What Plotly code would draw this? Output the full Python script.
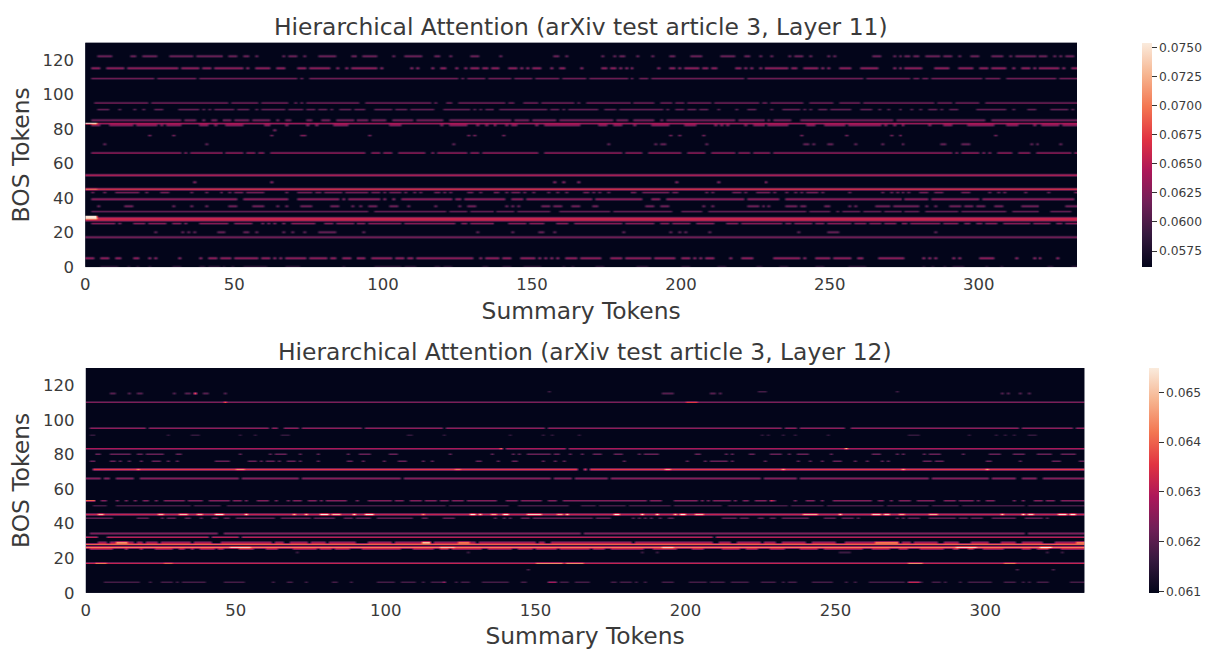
import plotly.graph_objects as go

N_COLS = 333
N_ROWS = 130
X_TICKS = [0, 50, 100, 150, 200, 250, 300]
Y_TICKS = [0, 20, 40, 60, 80, 100, 120]
ROCKET = [[0.0, "#03051a"], [0.143, "#35193e"], [0.286, "#701f57"], [0.429, "#ad1759"],
          [0.571, "#e13342"], [0.714, "#f37651"], [0.857, "#f6b48f"], [1.0, "#faebdd"]]

L11_MIN, L11_MAX = 0.05615, 0.07538
L11_TICKS = [0.0575, 0.06, 0.0625, 0.065, 0.0675, 0.07, 0.0725, 0.075]
L11_ROWS = [122, 115, 109, 95, 91, 85, 83, 82, 79, 76, 71, 66, 53, 49, 45, 43, 39, 35, 32, 28, 27, 25, 20, 17, 5, 0]
L11_LEVELS = [0.0618, 0.0635, 0.0622, 0.0622, 0.0616, 0.0622, 0.0645, 0.0630, 0.0630, 0.0630, 0.0614, 0.0638,
              0.0652, 0.0634, 0.0672, 0.0625, 0.0635, 0.0620, 0.0616, 0.0658, 0.0658, 0.0635, 0.0614, 0.0622, 0.0636, 0.0618]
L11_SPANS = [
 "4-6 7-8 15-16 19-23 28-30 31-35 37-40 41-44 45 48-50 53-54 57 66 68-70 73 78-83 89-90 93-97 103 107-111 112 117-118 122 129-131 139 157-158 161 173 177 179-180 185 190 196-197 203-206 213-217 221-222 226 230 236 238-240 243 249 251 264-266 271 273 275-276 278-279 282-286 288-290 293 297-299 304-306 307 310 312-318 320-322 325 327 329-331",
 "2-4 7-11 12 14-16 17-23 24-30 32-37 39 40-41 43-48 49-52 54 57-61 64-66 71-72 73 75-81 84 87 89-90 91-97 99 109 111 116 119-120 124 127 129-131 133-134 136-138 142-143 144 146 148 150-152 156 159-160 166 173-174 176-177 179 181 183 192 196-197 199 201-205 207-208 210-211 218-219 221 223 226 228-230 230-235 237-238 241-245 247 249 253-255 256 260-265 271 273 275-280 285-288 289 293-295 296-297 300-302 304-308 311 314-316 318 320-326 328 331-332",
 "2-22 24-36 38-43 44-54 55-70 72 75-97 98-102 103-105 106-109 110-121 122-124 126 128-133 135-142 144-149 151-158 160-167 169-181 183 186-188 190-220 222-247 248-249 250-260 262-276 278-279 281-282 284-300 302-306 309-325 327-332",
 "3-6 7-17 18-20 22-30 31-35 36-38 39-41 42-47 49-50 51-54 55-57 59-67 70 72 74-79 80-84 85-91 94-96 97-105 106-108 109-115 117 121-122 125-128 129-140 142-143 147-151 153-163 165 168-182 184-190 193-196 198-200 202-209 211-225 227-228 230-240 243-246 247-250 253-259 261-284 286-290 292-295 296-299 302-332",
 "4-7 11 16 19 23-25 31-35 36 37 39 41 43-45 46-49 51-54 57 59-66 68-72 74-76 78-80 82 85-88 90-93 97-102 104-107 109-116 120-128 130 132 134-136 139-151 152-154 156-158 160 162-171 174-177 179-184 185-193 195 198-200 202-204 206-208 212 218 222-224 230 234-235 236-238 239 241 243 246-248 250-253 254-256 260-263 266 269 273 277 280 283-285 287 290-292 299-306 307-308 311 316 317-318 324-328 329 331",
 "2-14 15-23 24-31 33-36 39 42-43 46-48 50-54 56-59 60-61 64 67-68 74-75 79-81 84-86 87-89 91-94 96-100 103-109 111-119 122-130 131-138 139-142 144-148 150-152 153-157 159-163 164-170 171-176 178-181 184-186 187-190 193 195-199 200-217 219-227 229 231-233 234-236 240-241 242-243 244-261 262 263-270 272-282 283-285 286-301 304-314 315-320 321-325 326-327 328-332",
 "0-332",
 "2-4 8-15 17-19 20-23 25 27-29 30-31 38-40 43 47-51 52 60-61 67 74 77 83-87 102-105 119 122-127 131 134 137 141 143-144 151 154-165 172-174 177-179 184 190-195 201-204 211 213 215 221 224-227 229-235 242-244 248-254 256-258 259-266 268 271 274 283 288-290 296-304 309-312 318 321-326 328-329 330-332",
 "63",
 "21 29 62 72-73 95 128 130 140 196 199 207 240 255 270 273 305",
 "6 40 123 175 191 193-194 208 241-242 244 249-250 258 267 274 287-288 294-296 317 319 327",
 "2-7 8-21 22-29 30-31 33 35-41 42-45 47-51 52 54-56 58-59 62-71 72-82 83-86 87-93 96-98 100-102 105-113 116 118-127 129-131 133-150 151 154-160 161-168 169-171 172-179 181-185 186 189-199 202-207 210-217 219-222 224-229 231-239 240-243 244-255 256-266 267-273 274-283 284-285 286-290 292 294-299 301 303 306-310 313-316 319-330 332",
 "0-332",
 "36 62 157 160 165 198 212 228",
 "0-332",
 "2 6 10-17 20 25-27 35 40 45 48 50-52 54-56 57-59 67 71-75 77 78 80-85 87-94 96-98 100 102-105 107 110 112 117-118 120 122 128-129 132 137-138 141 143-145 147 150 155 158 161 167-168 170 172 175 183-184 187-190 191-193 194-195 197-198 208 210 217-219 221 225-229 231 235 238 240 242-245 247 256 267 270 272 274 276 280-281 282 285-287 294-296 303 306 308 315 323 332",
 "2-10 11-17 18-50 53-67 71-84 86 88-97 98 100 103 106-111 112-119 120-122 124-125 127-140 143-146 148-169 171-186 190-192 195-220 222-232 235-273 275-282 284-299 301-331",
 "4 13-15 29 35 40 48-50 56-58 58-59 64 67 72-75 82-84 89 92 95-97 102-104 108 117 125 128-130 141 143 145 153-155 157-159 163-165 170-171 188-190 193-195 207 210 222-225 227 229 235-238 240-241 248-249 256 258 265-269 271-273 274-279 282 285 290-292 293 295-297 299-301 305-307 314-318 319 329-332",
 "2-4 5-6 7-16 17-21 22-30 31-45 46-59 60-67 68-83 84-92 93-94 97-120 122-127 129-136 138-140 141-143 145-155 159-175 177-196 200-201 202-203 204-206 209-241 243-249 252 254-256 257-259 261-266 268-273 275-279 282-286 287-290 291-292 294-296 297-301 302-308 311-315 316-319 324-330",
 "0-332",
 "0-332",
 "2-5 6-9 11 16-19 21-25 26 29-31 33 38-47 50-55 59 61 63 66 69-76 80-82 84-86 87-89 91-93 95-97 98-105 107-109 110-123 126-127 129-133 134-136 142-147 149-153 158-160 161 164-168 169-171 172-179 181-186 186-190 193-195 197-202 205-210 215-218 220-224 225-227 228-233 235-236 238-243 245-247 249-250 251-252 253-254 255-256 258-261 263-266 268-271 274-275 277-286 288-289 290-292 295-296 299-300 302-305 308-316 318-323 326-327 329-332",
 "23 32 34 36 44-46 53-54 57 66 69 73 78-83 93 131 143 152-153 157 180 196 199 201 209 239 249-252 285",
 "0-332",
 "0-2 5-7 10-11 16-17 21 23 31 38 41-43 45-48 50-54 55-57 59-61 63 65 67-73 75-78 79-80 82-83 86-88 91-93 96-102 104-106 108-109 111-129 132 134-136 137-138 140-142 146-150 152 154 156 158 161-164 166-172 176-179 181-189 191-197 200-202 204 206 208-210 216 220-223 231-239 241 245-249 251-254 255-256 259-260 266-271 272-274 281 283 285 291 293 300-304 312 318 320 326",
 "5-10 14 17 21 29-31 38-39 41-44 46 49 53-60 67-71 86 97-105 107-110 117-118 120-122 133-134 140-142 147-152 160 163 171-173 185-188 200-202 212-214 225-226 233-235 245-247 256-261 281 284 288 291-294 302 307 323-324 331-332",
]
L11_PEAK_ROWS = [83, 45, 29, 28]
L11_PEAKS = ["0-3:0.0752", "0-3:0.0700", "0-3:0.0752", "0-3:0.0752"]

L12_MIN, L12_MAX = 0.06098, 0.0655
L12_TICKS = [0.061, 0.062, 0.063, 0.064, 0.065]
L12_ROWS = [116, 115, 110, 95, 91, 83, 80, 76, 71, 66, 53, 50, 45, 43, 34, 32, 29, 28, 27, 26, 25, 23, 17, 13, 6]
L12_LEVELS = [0.0618, 0.0620, 0.0624, 0.0626, 0.0616, 0.0629, 0.0622, 0.0622, 0.0636, 0.0625, 0.0625, 0.0618,
              0.0632, 0.0621, 0.0624, 0.0631, 0.0627, 0.0640, 0.0615, 0.0643, 0.0625, 0.0617, 0.0632, 0.0620, 0.0618]
L12_SPANS = [
 "154 224-226 270",
 "8-9 14 17-18 29 33-34 36 39-40 46 192-195 208-209 211 305 307 311 314",
 "0-332",
 "1-3 4-19 21-23 24-28 29-60 62-63 66-70 72-77 78-91 93-118 120-143 144-150 151-152 154-164 165-212 213-231 233-236 238-248 249-252 255-275 276-283 284-302 303-310 312-326 327-328 330-332",
 "1-2 27 35-37 51 56 65-67 107-108 119 141 152 155 164 225 227 232 236 247 274-277 294 303 306 309 314-316",
 "0-16 17-50 51-138 140-159 161-332",
 "3-4 8-11 12-13 14 17-18 20-25 30-31 51 61 63-66 71 77 87 91-93 94 101-103 121 135 142 144 147-150 151-154 156-157 161 165 169-171 176-178 184 186-189 190 203-204 213 215 221-222 228-231 234 237-240 248 262-264 270 272 279 281-283 284 292 301-304 309-312 317-320 321 325-327 328-329",
 "1-2 8-9 11 14 18 22-24 27 30 43-45 46-47 54-56 58 60-62 64 67-69 71 77 87-88 92 99 104-106 112 115 130-131 137 142-143 152 156 159 179 200 206 208-213 215 226 237 241 245 249-251 256 260 265 267 279-281 283-285 300-301 311 322-324 331-332",
 "2-163 166 168-332",
 "0-4 6-7 10-15 18-27 28-30 31-35 36-50 52-54 55-58 59-62 63-67 68-70 72-87 88-93 94-104 106-119 120-129 130-154 156-161 163-173 175-197 198-208 209-215 216-224 226-236 238-250 251-256 257-274 275-277 278-279 280 282-294 295-300 302-306 307-309 312-313 314-316 319-332",
 "0-2 5-6 10 13 16 19-20 23 26-27 28-30 31-32 34-36 37-38 41-46 47 49-51 53 57-60 63 67 69-71 74-76 78 80-83 84-86 90 94-101 103-105 108-111 113-116 118-120 122-125 127-135 136 140-142 143 145-151 154-156 159-161 162-163 164-175 176-179 180-184 185-186 188-190 191 196-202 203 205 207 209-211 212-213 214 216 219-220 223-226 228-229 236 240-242 245 249-258 259-261 264-265 268 271-274 277-282 286-289 291-295 297 300-302 309 312 316-318 320-322 325-331 332",
 "2-6 10-24 25-34 36-44 47-57 58-66 67-84 85-119 121-140 144-160 165-169 171-179 181-194 196-211 214-225 226-233 235-237 238-245 247-265 267-280 282-290 292-306 307-312 314-332",
 "0-332",
 "0-8 17-19 20 25 27-29 33-34 38 42-43 46-47 50-62 65-69 70-74 76-79 80-82 86-88 90-94 97-100 101-104 105-106 107-108 112-113 119-122 136 139 141 145-147 149-160 161-163 164-165 166-168 170-174 182 184 186 188 191 194-195 212-213 214-216 218-220 224-225 228-229 232-235 236-240 246-249 252-255 257 270 272 274-277 281-282 283-285 286-289 291-293 295-298 302-305 306-309 313-318 320",
 "1-43 46-164 166-312 314-332",
 "0-3 7-16 17-40 42-50 52-208 210-332",
 "4-6 8-15 17-18 20-23 25-30 31-34 36-41 45-55 56-61 63-65 68-73 75-79 81-89 94-97 98-101 103-114 116-129 131-141 142-149 151-152 155-162 163-165 166-181 183-194 195-208 211-214 217-224 226-229 232-239 242-249 253-256 257-263 263-270 272-274 276-283 286-290 295-300 305-309 312-318 323-332",
 "0-332",
 "0-332",
 "0-332",
 "1-2 3-8 13 18 23-28 31-32 35 38-42 44-45 51-55 60-63 69-76 78-81 83-87 92-97 98-100 101-104 109-115 118-120 122-131 134-141 144-148 150-156 158-167 169-172 175-185 189-196 202-205 212-217 220-223 228-232 238-243 246-252 253-258 262-267 271-273 278-285 289-290 294-295 299-305 312-314 317-320 325-332",
 "70 127 185 190 251-254 320 325",
 "0-332",
 "147 310 322",
 "6-17 21 25-28 30 32-39 46-52 62 67-68 73 82-83 88 97-102 105-109 112 115-118 119 123 125-127 132-140 145-146 154-156 158-160 163-167 175-176 178-181 183 186 192-195 201-203 204-206 208-212 215-220 225-229 232 234-236 242-248 253 256 261-272 274-278 282-284 286 291 294-297 298-301 306-309 312 314 317-319 320 328-331 332",
]
L12_PEAK_ROWS = [115, 110, 83, 71, 53, 45, 29, 26, 17, 6]
L12_PEAKS = [
 "36:0.0640",
 "46:0.0640 200-203:0.0636",
 "138:0.0642 253:0.0650",
 "17:0.0645 50-52:0.0645 123-124:0.0643 193-194:0.0648 232:0.0648 272:0.0648 300:0.0648",
 "0-2:0.0640 228:0.0636",
 "4-5:0.0650 24-25:0.0650 31-33:0.0650 37-38:0.0650 43-45:0.0655 53:0.0655 69:0.0650 73:0.0652 78-80:0.0655 82-84:0.0650 89:0.0655 93-95:0.0655 112:0.0646 128-129:0.0655 131:0.0654 135-136:0.0648 139-140:0.0655 147-151:0.0652 157-158:0.0648 160:0.0652 176-177:0.0655 185:0.0655 190:0.0655 196:0.0652 198-199:0.0655 203-205:0.0650 239-243:0.0648 251:0.0654 262-264:0.0652 266-267:0.0652 271-272:0.0648 281-283:0.0648 305:0.0652 312:0.0655 314-315:0.0652 324-326:0.0654 328-329:0.0655",
 "10-13:0.0645 112-114:0.0650 124-127:0.0642 263-270:0.0642 330-332:0.0642",
 "48-54:0.0652 118-122:0.0650 192-195:0.0652 290-296:0.0652 318-321:0.0655",
 "3-6:0.0642 26-28:0.0640 150-158:0.0644 160-165:0.0644 274-278:0.0644 306-309:0.0642",
 "119:0.0628 154-156:0.0628 274-277:0.0632",
]


def cols_of(text):
    out = []
    for tok in text.split():
        a, _, b = tok.partition("-")
        out.extend(range(int(a), int(b or a) + 1))
    return [c for c in out if c < N_COLS]


def build(zmin, rows, levels, spans, peak_rows, peaks):
    z = [[zmin] * N_COLS for _ in range(N_ROWS)]
    for r, lv, s in zip(rows, levels, spans):
        for c in cols_of(s):
            z[r][c] = lv
    for r, text in zip(peak_rows, peaks):
        for tok in text.split():
            span, _, value = tok.partition(":")
            for c in cols_of(span):
                z[r][c] = float(value)
    return z


W, H = 1218.0, 653.0
ML, MR, MT, MB = 80.0, 8.0, 30.0, 59.5


def px(v):
    return (v - ML) / (W - ML - MR)


def py(v):
    return 1 - (v - MT) / (H - MT - MB)


x_centers = [i + 0.5 for i in range(N_COLS)]
y_centers = [i + 0.5 for i in range(N_ROWS)]
TEXT = "#3a3a3a"
FONT = "DejaVu Sans"


def colorbar(left, top, bottom, ticks, fmt):
    return dict(x=px(left), xanchor="left", xpad=0, ypad=0, y=py(bottom), yanchor="bottom",
                len=(bottom - top) / (H - MT - MB), thickness=9.5, outlinewidth=0, tickvals=ticks, tickformat=fmt,
                ticks="outside", ticklen=5, tickcolor="#333", tickfont=dict(size=12.3, color=TEXT, family=FONT))


fig = go.Figure()
fig.add_trace(go.Heatmap(
    z=build(L11_MIN, L11_ROWS, L11_LEVELS, L11_SPANS, L11_PEAK_ROWS, L11_PEAKS),
    x=x_centers, y=y_centers, zmin=L11_MIN, zmax=L11_MAX, colorscale=ROCKET, xaxis="x", yaxis="y", zsmooth="best",
    colorbar=colorbar(1141.7, 43, 267, L11_TICKS, ".4f")))
fig.add_trace(go.Heatmap(
    z=build(L12_MIN, L12_ROWS, L12_LEVELS, L12_SPANS, L12_PEAK_ROWS, L12_PEAKS),
    x=x_centers, y=y_centers, zmin=L12_MIN, zmax=L12_MAX, colorscale=ROCKET, xaxis="x2", yaxis="y2", zsmooth="best",
    colorbar=colorbar(1149.3, 368.3, 593, L12_TICKS, ".3f")))


def x_axis(left, right, anchor):
    return dict(domain=[px(left), px(right)], range=[0, N_COLS], tickvals=X_TICKS, anchor=anchor, showgrid=False,
                zeroline=False, ticks="outside", ticklen=2, tickcolor="rgba(0,0,0,0)",
                tickfont=dict(size=16.5, color=TEXT, family=FONT),
                title=dict(text="Summary Tokens", standoff=9, font=dict(size=23.4, color=TEXT, family=FONT)))


def y_axis(top, bottom, anchor):
    return dict(domain=[py(bottom), py(top)], range=[0, N_ROWS], tickvals=Y_TICKS, anchor=anchor, showgrid=False,
                zeroline=False, ticks="outside", ticklen=7, tickcolor="rgba(0,0,0,0)",
                tickfont=dict(size=16.5, color=TEXT, family=FONT),
                title=dict(text="BOS Tokens", standoff=6, font=dict(size=23.4, color=TEXT, family=FONT)))


fig.update_layout(
    width=1218, height=653, margin=dict(l=ML, r=MR, t=MT, b=MB), paper_bgcolor="white", plot_bgcolor="#03051a",
    xaxis=x_axis(85.3, 1077, "y"), yaxis=y_axis(42.7, 267.3, "x"),
    xaxis2=x_axis(85.8, 1084.3, "y2"), yaxis2=y_axis(368.3, 593.3, "x2"),
    annotations=[
        dict(text="Hierarchical Attention (arXiv test article 3, Layer 11)", x=px(581), y=py(27), xref="paper",
             yref="paper", showarrow=False, xanchor="center", yanchor="middle", font=dict(size=23.4, color=TEXT, family=FONT)),
        dict(text="Hierarchical Attention (arXiv test article 3, Layer 12)", x=px(585), y=py(352), xref="paper",
             yref="paper", showarrow=False, xanchor="center", yanchor="middle", font=dict(size=23.4, color=TEXT, family=FONT)),
    ])

fig.write_html("out.html", post_script="document.body.style.margin='0';", config={"displayModeBar": False})
